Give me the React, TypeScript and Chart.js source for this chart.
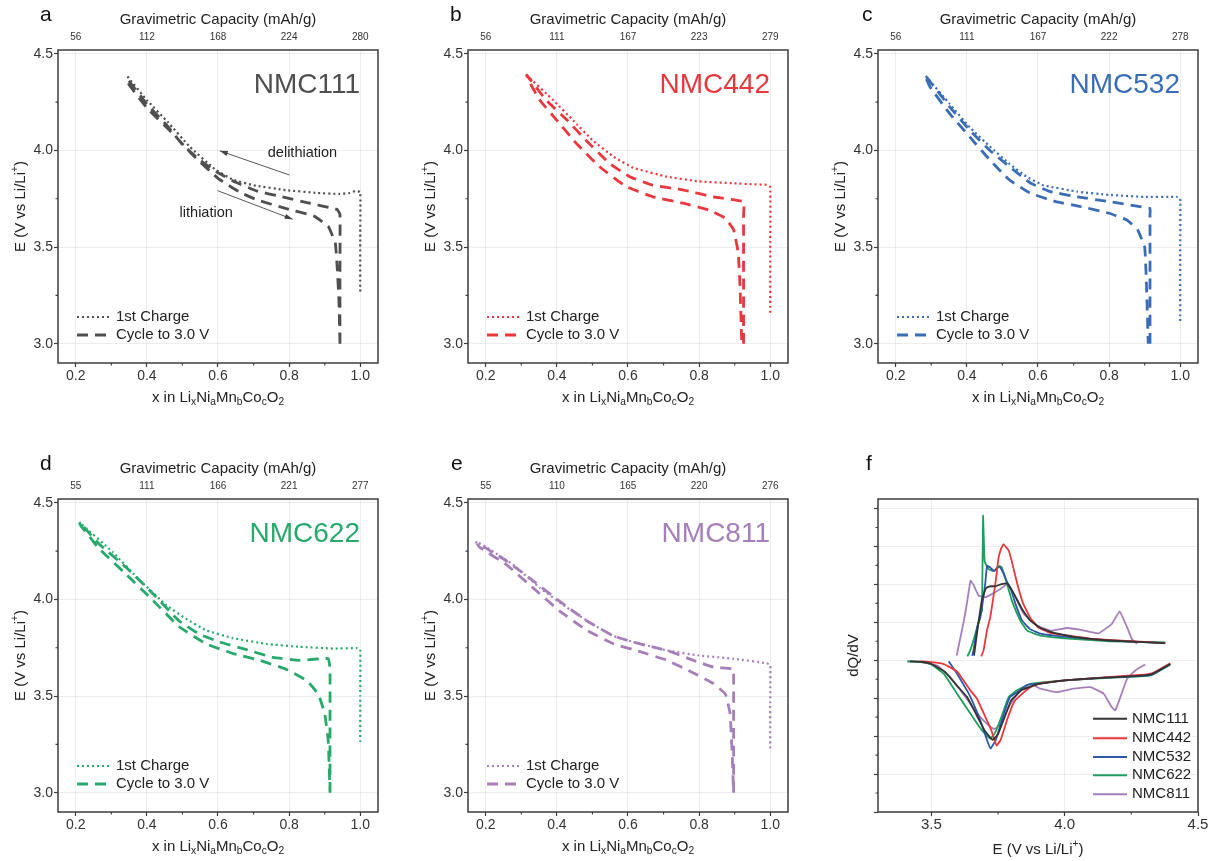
import React, { useEffect, useRef } from "react";
import { Chart, registerables } from "chart.js";

Chart.register(...registerables);

const FONT = '"Liberation Sans", Arial, Helvetica, sans-serif';
Chart.defaults.font.family = FONT;
Chart.defaults.color = "#333";

// ---------- Top-axis capacity tick labels (mAh/g), placed at x = 0.2 ... 1.0
const cap111 = ["56", "112", "168", "224", "280"];
const cap442 = ["56", "111", "167", "223", "279"];
const cap532 = ["56", "111", "167", "222", "278"];
const cap622 = ["55", "111", "166", "221", "277"];
const cap811 = ["55", "110", "165", "220", "276"];

// ---------- NMC111 (a)
const nmc111ChargeX = [1.0, 1.0, 1.0, 0.985, 0.97, 0.94, 0.88, 0.79, 0.7, 0.64, 0.59, 0.52, 0.459, 0.4, 0.342];
const nmc111ChargeE = [3.27, 3.55, 3.785, 3.79, 3.78, 3.775, 3.78, 3.795, 3.82, 3.85, 3.905, 4.02, 4.147, 4.26, 4.39];
const nmc111CycleX = [0.943, 0.943, 0.943, 0.935, 0.925, 0.85, 0.78, 0.71, 0.65, 0.6, 0.55, 0.5, 0.459, 0.4, 0.345, 0.35, 0.4, 0.473, 0.53, 0.6, 0.66, 0.71, 0.79, 0.87, 0.91, 0.93, 0.935, 0.94, 0.943];
const nmc111CycleE = [3.0, 3.35, 3.67, 3.695, 3.7, 3.73, 3.76, 3.79, 3.835, 3.885, 3.95, 4.03, 4.125, 4.24, 4.37, 4.34, 4.22, 4.088, 3.975, 3.856, 3.785, 3.744, 3.7, 3.66, 3.607, 3.52, 3.4, 3.23, 3.0];

// ---------- NMC442 (b)
const nmc442ChargeX = [1.0, 1.0, 1.0, 0.99, 0.95, 0.897, 0.8, 0.71, 0.615, 0.56, 0.502, 0.446, 0.39, 0.315];
const nmc442ChargeE = [3.16, 3.5, 3.81, 3.822, 3.825, 3.83, 3.84, 3.864, 3.91, 3.967, 4.05, 4.155, 4.26, 4.39];
const nmc442CycleX = [0.925, 0.925, 0.925, 0.925, 0.84, 0.756, 0.67, 0.605, 0.55, 0.483, 0.43, 0.37, 0.315, 0.33, 0.352, 0.4, 0.455, 0.52, 0.595, 0.67, 0.756, 0.83, 0.873, 0.897, 0.91, 0.915, 0.92];
const nmc442CycleE = [3.0, 3.35, 3.66, 3.735, 3.76, 3.795, 3.82, 3.864, 3.93, 4.05, 4.155, 4.26, 4.39, 4.33, 4.26, 4.156, 4.036, 3.916, 3.813, 3.76, 3.727, 3.69, 3.65, 3.59, 3.47, 3.3, 3.0];

// ---------- NMC532 (c)
const nmc532ChargeX = [1.0, 1.0, 1.0, 0.99, 0.897, 0.8, 0.71, 0.615, 0.568, 0.52, 0.465, 0.408, 0.352, 0.282];
const nmc532ChargeE = [3.117, 3.45, 3.75, 3.76, 3.76, 3.77, 3.787, 3.82, 3.864, 3.93, 4.02, 4.12, 4.24, 4.39];
const nmc532CycleX = [0.915, 0.915, 0.915, 0.915, 0.8, 0.71, 0.635, 0.58, 0.52, 0.465, 0.408, 0.352, 0.282, 0.296, 0.352, 0.408, 0.465, 0.52, 0.577, 0.65, 0.72, 0.8, 0.85, 0.88, 0.9, 0.905, 0.91];
const nmc532CycleE = [3.0, 3.35, 3.67, 3.7, 3.735, 3.76, 3.787, 3.83, 3.916, 4.0, 4.105, 4.225, 4.39, 4.33, 4.19, 4.07, 3.95, 3.847, 3.78, 3.735, 3.71, 3.675, 3.64, 3.59, 3.5, 3.31, 3.0];

// ---------- NMC622 (d)
const nmc622ChargeX = [1.0, 1.0, 1.0, 0.99, 0.924, 0.83, 0.736, 0.642, 0.567, 0.51, 0.455, 0.38, 0.304, 0.21];
const nmc622ChargeE = [3.263, 3.5, 3.74, 3.748, 3.746, 3.755, 3.77, 3.8, 3.84, 3.9, 3.97, 4.1, 4.245, 4.4];
const nmc622CycleX = [0.915, 0.915, 0.915, 0.91, 0.83, 0.755, 0.68, 0.605, 0.548, 0.49, 0.417, 0.342, 0.267, 0.21, 0.215, 0.267, 0.342, 0.417, 0.49, 0.567, 0.642, 0.717, 0.79, 0.85, 0.882, 0.9, 0.91, 0.915];
const nmc622CycleE = [3.0, 3.35, 3.64, 3.694, 3.685, 3.7, 3.74, 3.78, 3.82, 3.89, 4.03, 4.165, 4.285, 4.4, 4.38, 4.26, 4.13, 3.995, 3.86, 3.77, 3.72, 3.685, 3.64, 3.58, 3.51, 3.41, 3.27, 3.0];

// ---------- NMC811 (e)
const nmc811ChargeX = [1.0, 1.0, 1.0, 0.99, 0.897, 0.8, 0.71, 0.615, 0.56, 0.502, 0.43, 0.352, 0.277, 0.202, 0.174];
const nmc811ChargeE = [3.23, 3.45, 3.66, 3.67, 3.693, 3.71, 3.736, 3.78, 3.81, 3.87, 3.956, 4.06, 4.18, 4.27, 4.3];
const nmc811CycleX = [0.897, 0.897, 0.897, 0.897, 0.84, 0.784, 0.71, 0.634, 0.56, 0.484, 0.408, 0.333, 0.258, 0.174, 0.183, 0.258, 0.333, 0.408, 0.484, 0.56, 0.634, 0.71, 0.784, 0.84, 0.874, 0.887, 0.893, 0.897];
const nmc811CycleE = [3.0, 3.3, 3.615, 3.64, 3.65, 3.685, 3.736, 3.77, 3.81, 3.89, 3.99, 4.097, 4.2, 4.295, 4.27, 4.18, 4.06, 3.94, 3.84, 3.77, 3.73, 3.685, 3.62, 3.565, 3.51, 3.41, 3.2, 3.0];

// ---------- dQ/dV (f): charge (positive) and discharge (negative), arbitrary units
const dq111ChE = [3.66, 3.675, 3.69, 3.705, 3.72, 3.74, 3.76, 3.785, 3.81, 3.84, 3.87, 3.91, 3.96, 4.05, 4.17, 4.377];
const dq111ChY = [0.12, 0.9, 1.6, 1.9, 1.95, 1.95, 2.0, 2.02, 1.75, 1.35, 1.05, 0.85, 0.72, 0.6, 0.52, 0.45];
const dq442ChE = [3.687, 3.696, 3.709, 3.721, 3.74, 3.752, 3.762, 3.771, 3.78, 3.79, 3.802, 3.821, 3.843, 3.87, 3.9, 3.946, 4.0, 4.108, 4.25, 4.377];
const dq442ChY = [0.1, 0.26, 0.8, 1.13, 2.01, 2.7, 2.95, 3.06, 2.98, 2.9, 2.6, 2.05, 1.52, 1.13, 0.87, 0.72, 0.66, 0.56, 0.5, 0.45];
const dq532ChE = [3.653, 3.658, 3.672, 3.684, 3.702, 3.709, 3.72, 3.735, 3.755, 3.77, 3.785, 3.797, 3.815, 3.84, 3.87, 3.91, 4.0, 4.17, 4.377];
const dq532ChY = [0.12, 0.26, 0.87, 1.13, 2.01, 2.49, 2.45, 2.35, 2.47, 2.3, 2.05, 1.9, 1.5, 1.05, 0.82, 0.7, 0.62, 0.52, 0.45];
const dq622ChE = [3.635, 3.646, 3.672, 3.684, 3.69, 3.694, 3.7, 3.715, 3.735, 3.752, 3.764, 3.784, 3.802, 3.834, 3.859, 3.909, 4.0, 4.17, 4.377];
const dq622ChY = [0.1, 0.26, 0.87, 1.22, 1.3, 3.81, 2.6, 2.4, 2.35, 2.49, 2.45, 2.01, 1.57, 1.04, 0.78, 0.65, 0.58, 0.5, 0.47];
const dq811ChE = [3.595, 3.622, 3.635, 3.647, 3.66, 3.678, 3.703, 3.728, 3.759, 3.784, 3.809, 3.847, 3.897, 3.946, 4.009, 4.06, 4.127, 4.177, 4.206, 4.234, 4.252, 4.271];
const dq811ChY = [0.12, 1.04, 1.57, 2.1, 1.96, 1.7, 1.66, 1.75, 1.88, 2.0, 1.75, 1.22, 0.91, 0.78, 0.85, 0.8, 0.71, 0.96, 1.29, 0.87, 0.56, 0.43];

const dq111DisE = [3.42, 3.46, 3.5, 3.55, 3.6, 3.634, 3.67, 3.7, 3.73, 3.75, 3.775, 3.8, 3.84, 3.9, 4.0, 4.15, 4.3, 4.33, 4.396];
const dq111DisY = [-0.03, -0.04, -0.1, -0.3, -0.7, -0.97, -1.45, -1.85, -2.1, -1.95, -1.5, -1.05, -0.78, -0.63, -0.53, -0.46, -0.4, -0.36, -0.1];
const dq442DisE = [3.46, 3.5, 3.547, 3.597, 3.647, 3.67, 3.7, 3.725, 3.745, 3.76, 3.785, 3.81, 3.827, 3.87, 3.902, 4.0, 4.15, 4.3, 4.33, 4.396];
const dq442DisY = [-0.03, -0.05, -0.1, -0.3, -0.8, -1.0, -1.45, -1.85, -2.25, -2.1, -1.55, -1.1, -0.97, -0.72, -0.62, -0.53, -0.45, -0.38, -0.34, -0.08];
const dq532DisE = [3.565, 3.597, 3.634, 3.647, 3.684, 3.709, 3.722, 3.741, 3.772, 3.795, 3.82, 3.86, 3.92, 4.0, 4.15, 4.3, 4.33, 4.396];
const dq532DisY = [-0.03, -0.36, -0.8, -0.97, -1.59, -2.11, -2.33, -2.11, -1.41, -0.97, -0.85, -0.65, -0.6, -0.53, -0.46, -0.41, -0.37, -0.1];
const dq622DisE = [3.41, 3.45, 3.497, 3.547, 3.597, 3.647, 3.69, 3.721, 3.74, 3.765, 3.79, 3.82, 3.871, 3.92, 4.0, 4.15, 4.3, 4.33, 4.396];
const dq622DisY = [-0.03, -0.04, -0.1, -0.36, -0.89, -1.41, -1.85, -2.07, -1.9, -1.45, -0.97, -0.8, -0.62, -0.58, -0.53, -0.47, -0.42, -0.38, -0.12];
const dq811DisE = [3.41, 3.47, 3.522, 3.572, 3.61, 3.647, 3.684, 3.716, 3.734, 3.745, 3.766, 3.797, 3.834, 3.884, 3.909, 3.971, 4.033, 4.096, 4.146, 4.177, 4.19, 4.209, 4.234, 4.265, 4.302];
const dq811DisY = [-0.03, -0.05, -0.14, -0.45, -0.8, -1.15, -1.5, -1.72, -1.81, -1.78, -1.59, -1.15, -0.8, -0.66, -0.75, -0.84, -0.75, -0.71, -0.88, -1.24, -1.32, -0.97, -0.49, -0.27, -0.11];

const seriesNames = ["NMC111", "NMC442", "NMC532", "NMC622", "NMC811"];
const seriesColors = ["#4f4f4f", "#e8383d", "#3a6db5", "#27a96c", "#a67fba"];
const fColors = ["#333333", "#e8383d", "#2c58a8", "#1f9e5e", "#a67fba"];

// Annotation anchors for panel a (data coordinates)
const delithArrow = [0.801, 3.873, 0.605, 3.998];
const lithArrow = [0.599, 3.792, 0.81, 3.644];
const delithText = [0.74, 3.986];
const lithText = [0.492, 3.677];

const zip = (xs: number[], ys: number[]) => xs.map((x, i) => ({ x, y: ys[i] }));

type Seg = { t: string; s?: "sub" | "sup" };

function drawRich(ctx: CanvasRenderingContext2D, segs: Seg[], cx: number, cy: number, size: number, color: string, rotate = 0) {
  ctx.save();
  ctx.translate(cx, cy);
  if (rotate) ctx.rotate(rotate);
  const sz = (s: Seg) => (s.s ? size * 0.68 : size);
  let total = 0;
  const widths = segs.map((s) => {
    ctx.font = `${sz(s)}px ${FONT}`;
    const w = ctx.measureText(s.t).width;
    total += w;
    return w;
  });
  let x = -total / 2;
  ctx.fillStyle = color;
  ctx.textBaseline = "middle";
  ctx.textAlign = "left";
  segs.forEach((s, i) => {
    ctx.font = `${sz(s)}px ${FONT}`;
    const dy = s.s === "sub" ? size * 0.3 : s.s === "sup" ? -size * 0.38 : 0;
    ctx.fillText(s.t, x, dy);
    x += widths[i];
  });
  ctx.restore();
}

function drawArrow(ctx: CanvasRenderingContext2D, x1: number, y1: number, x2: number, y2: number) {
  ctx.save();
  ctx.strokeStyle = "#444";
  ctx.fillStyle = "#444";
  ctx.lineWidth = 0.9;
  ctx.setLineDash([]);
  ctx.beginPath();
  ctx.moveTo(x1, y1);
  ctx.lineTo(x2, y2);
  ctx.stroke();
  const a = Math.atan2(y2 - y1, x2 - x1);
  const L = 8, W = 2.6;
  ctx.beginPath();
  ctx.moveTo(x2, y2);
  ctx.lineTo(x2 - L * Math.cos(a) + W * Math.sin(a), y2 - L * Math.sin(a) - W * Math.cos(a));
  ctx.lineTo(x2 - L * Math.cos(a) - W * Math.sin(a), y2 - L * Math.sin(a) + W * Math.cos(a));
  ctx.closePath();
  ctx.fill();
  ctx.restore();
}

const xTitleSegs: Seg[] = [
  { t: "x in Li" }, { t: "x", s: "sub" }, { t: "Ni" }, { t: "a", s: "sub" }, { t: "Mn" }, { t: "b", s: "sub" },
  { t: "Co" }, { t: "c", s: "sub" }, { t: "O" }, { t: "2", s: "sub" },
];
const eTitleSegs: Seg[] = [{ t: "E (V vs Li/Li" }, { t: "+", s: "sup" }, { t: ")" }];

const decorPlugin = {
  id: "decor",
  afterDraw(chart: any) {
    const o = chart.options.plugins.decor;
    if (!o) return;
    const ctx: CanvasRenderingContext2D = chart.ctx;
    const ca = chart.chartArea;
    const xs = chart.scales.x;
    const ys = chart.scales.y;
    ctx.save();
    // frame
    ctx.setLineDash([]);
    ctx.strokeStyle = "#3c3c3c";
    ctx.lineWidth = 1.5;
    ctx.strokeRect(ca.left, ca.top, ca.right - ca.left, ca.bottom - ca.top);
    // minor ticks
    ctx.lineWidth = 1.1;
    ctx.beginPath();
    for (const v of o.minorX) {
      const p = xs.getPixelForValue(v);
      ctx.moveTo(p, ca.bottom);
      ctx.lineTo(p, ca.bottom + 2.5);
    }
    for (const v of o.minorY) {
      const p = ys.getPixelForValue(v);
      ctx.moveTo(ca.left, p);
      ctx.lineTo(ca.left - 2.5, p);
    }
    ctx.stroke();
    // panel letter
    ctx.fillStyle = "#111";
    ctx.font = `21px ${FONT}`;
    ctx.textAlign = "left";
    ctx.textBaseline = "alphabetic";
    ctx.fillText(o.letter, o.letterX, ca.top - 29);
    const cx = (ca.left + ca.right) / 2;
    const cy = (ca.top + ca.bottom) / 2;
    if (o.topTitle) {
      ctx.font = `15px ${FONT}`;
      ctx.textAlign = "center";
      ctx.textBaseline = "middle";
      ctx.fillStyle = "#222";
      ctx.fillText(o.topTitle, cx, ca.top - 30);
    }
    drawRich(ctx, o.xTitle, cx, o.xTitleY, 15, "#222");
    drawRich(ctx, o.yTitle, o.yTitleX, cy, 15, "#222", -Math.PI / 2);
    if (o.label) {
      ctx.font = `28px ${FONT}`;
      ctx.textAlign = "right";
      ctx.textBaseline = "middle";
      ctx.fillStyle = o.label.color;
      ctx.fillText(o.label.text, ca.right - 18, ca.top + 35);
    }
    const ds = chart.data.datasets;
    if (o.legend === "ae") {
      const rows = [ca.bottom - 46, ca.bottom - 28];
      ds.forEach((d: any, i: number) => {
        ctx.setLineDash(d.borderDash || []);
        ctx.lineWidth = d.borderWidth;
        ctx.strokeStyle = d.borderColor;
        ctx.beginPath();
        ctx.moveTo(ca.left + 19, rows[i]);
        ctx.lineTo(ca.left + 52, rows[i]);
        ctx.stroke();
        ctx.setLineDash([]);
        ctx.fillStyle = "#222";
        ctx.font = `15px ${FONT}`;
        ctx.textBaseline = "middle";
        ctx.textAlign = "left";
        ctx.fillText(d.label, ca.left + 58, rows[i]);
      });
    }
    if (o.legend === "f") {
      const offs = [93.3, 73.7, 55, 36.7, 17.7];
      for (let i = 0; i < 5; i++) {
        const d = ds[i];
        const y = ca.bottom - offs[i];
        ctx.setLineDash([]);
        ctx.lineWidth = 2;
        ctx.strokeStyle = d.borderColor;
        ctx.beginPath();
        ctx.moveTo(ca.left + 215, y);
        ctx.lineTo(ca.left + 249, y);
        ctx.stroke();
        ctx.fillStyle = "#222";
        ctx.font = `15px ${FONT}`;
        ctx.textBaseline = "middle";
        ctx.textAlign = "left";
        ctx.fillText(d.label, ca.left + 254, y);
      }
    }
    if (o.notes) {
      for (const a of o.arrows) {
        drawArrow(ctx, xs.getPixelForValue(a[0]), ys.getPixelForValue(a[1]), xs.getPixelForValue(a[2]), ys.getPixelForValue(a[3]));
      }
      ctx.fillStyle = "#222";
      ctx.font = `14.5px ${FONT}`;
      ctx.textAlign = "left";
      ctx.textBaseline = "middle";
      for (const n of o.notes) {
        ctx.fillText(n.text, xs.getPixelForValue(n.x), ys.getPixelForValue(n.y));
      }
    }
    ctx.restore();
  },
};

const gridColor = "rgba(0,0,0,0.07)";

function voltageConfig(p: any) {
  return {
    type: "scatter",
    data: {
      datasets: [
        {
          label: "1st Charge",
          data: zip(p.chX, p.chE),
          showLine: true,
          borderColor: p.color,
          borderWidth: 2.2,
          borderDash: [2, 3],
          pointRadius: 0,
          tension: 0.1,
          fill: false,
        },
        {
          label: "Cycle to 3.0 V",
          data: zip(p.cyX, p.cyE),
          showLine: true,
          borderColor: p.color,
          borderWidth: 2.8,
          borderDash: [11, 7],
          pointRadius: 0,
          tension: 0.1,
          fill: false,
        },
      ],
    },
    options: {
      responsive: false,
      animation: false,
      events: [],
      layout: { padding: { left: 0, right: 12, top: 0, bottom: 0 } },
      plugins: {
        legend: { display: false },
        tooltip: { enabled: false },
        decor: {
          letter: p.letter,
          letterX: p.letterX,
          topTitle: "Gravimetric Capacity (mAh/g)",
          xTitle: xTitleSegs,
          xTitleY: 398,
          yTitle: eTitleSegs,
          yTitleX: 21,
          label: { text: p.name, color: p.color },
          legend: "ae",
          minorX: [0.3, 0.5, 0.7, 0.9],
          minorY: [3.25, 3.75, 4.25],
          arrows: p.arrows,
          notes: p.notes,
        },
      },
      scales: {
        x: {
          type: "linear",
          position: "bottom",
          min: 0.15,
          max: 1.05,
          afterFit: (s: any) => { s.height = 57; s.paddingLeft = 0; s.paddingRight = 0; },
          ticks: { stepSize: 0.2, includeBounds: false, padding: 1, font: { size: 14 }, color: "#333", callback: (v: number) => v.toFixed(1) },
          grid: { color: gridColor, lineWidth: 1, tickLength: 4, tickColor: "#3c3c3c", tickWidth: 1.2 },
          border: { display: false },
        },
        xTop: {
          type: "linear",
          axis: "x",
          position: "top",
          min: 0.15,
          max: 1.05,
          afterFit: (s: any) => { s.height = 50; s.paddingLeft = 0; s.paddingRight = 0; },
          ticks: {
            stepSize: 0.2,
            includeBounds: false,
            padding: 7,
            font: { size: 10 },
            color: "#333",
            callback: (v: number) => p.cap[Math.round((v - 0.2) / 0.2)] ?? "",
          },
          grid: { display: false, drawTicks: false },
          border: { display: false },
        },
        y: {
          type: "linear",
          min: 2.9,
          max: 4.52,
          afterFit: (s: any) => { s.width = 58; s.paddingTop = 0; s.paddingBottom = 0; },
          ticks: { stepSize: 0.5, includeBounds: false, padding: 1, font: { size: 14 }, color: "#333", callback: (v: number) => v.toFixed(1) },
          grid: { color: gridColor, lineWidth: 1, tickLength: 4, tickColor: "#3c3c3c", tickWidth: 1.2 },
          border: { display: false },
        },
      },
    },
    plugins: [decorPlugin],
  };
}

function dqdvConfig() {
  const ch = [
    [dq111ChE, dq111ChY], [dq442ChE, dq442ChY], [dq532ChE, dq532ChY], [dq622ChE, dq622ChY], [dq811ChE, dq811ChY],
  ];
  const dis = [
    [dq111DisE, dq111DisY], [dq442DisE, dq442DisY], [dq532DisE, dq532DisY], [dq622DisE, dq622DisY], [dq811DisE, dq811DisY],
  ];
  const mk = (arr: number[][], i: number) => ({
    label: seriesNames[i],
    data: zip(arr[0], arr[1]),
    showLine: true,
    borderColor: fColors[i],
    borderWidth: 1.8,
    pointRadius: 0,
    tension: 0.1,
    fill: false,
  });
  return {
    type: "scatter",
    data: { datasets: [...ch.map((a, i) => mk(a, i)), ...dis.map((a, i) => mk(a, i))] },
    options: {
      responsive: false,
      animation: false,
      events: [],
      layout: { padding: { left: 0, right: 12, top: 50, bottom: 0 } },
      plugins: {
        legend: { display: false },
        tooltip: { enabled: false },
        decor: {
          letter: "f",
          letterX: 46,
          xTitle: eTitleSegs,
          xTitleY: 401,
          yTitle: [{ t: "dQ/dV" }],
          yTitleX: 34,
          legend: "f",
          minorX: [3.75, 4.25],
          minorY: [-3.5, -2.5, -1.5, -0.5, 0.5, 1.5, 2.5, 3.5],
        },
      },
      scales: {
        x: {
          type: "linear",
          min: 3.3,
          max: 4.5,
          afterFit: (s: any) => { s.height = 57; s.paddingLeft = 0; s.paddingRight = 0; },
          ticks: { stepSize: 0.5, includeBounds: false, padding: 0, font: { size: 15 }, color: "#333", callback: (v: number) => v.toFixed(1) },
          grid: { color: gridColor, lineWidth: 1, tickLength: 4, tickColor: "#3c3c3c", tickWidth: 1.2 },
          border: { display: false },
        },
        y: {
          type: "linear",
          min: -4,
          max: 4.25,
          afterFit: (s: any) => { s.width = 58; s.paddingTop = 0; s.paddingBottom = 0; },
          ticks: { stepSize: 1, includeBounds: false, callback: () => "" },
          grid: { color: gridColor, lineWidth: 1, tickLength: 4, tickColor: "#3c3c3c", tickWidth: 1.2 },
          border: { display: false },
        },
      },
    },
    plugins: [decorPlugin],
  };
}

function Panel({ left, top, make }: { left: number; top: number; make: () => any }) {
  const ref = useRef<HTMLCanvasElement>(null);
  useEffect(() => {
    const chart = new Chart(ref.current as HTMLCanvasElement, make());
    return () => chart.destroy();
  }, []);
  return (
    <div style={{ position: "absolute", left, top, width: 390, height: 420 }}>
      <canvas ref={ref} width={390} height={420} style={{ display: "block" }} />
    </div>
  );
}

const panels = [
  { letter: "a", letterX: 40, name: "NMC111", color: seriesColors[0], cap: cap111, chX: nmc111ChargeX, chE: nmc111ChargeE, cyX: nmc111CycleX, cyE: nmc111CycleE,
    arrows: [delithArrow, lithArrow],
    notes: [{ text: "delithiation", x: delithText[0], y: delithText[1] }, { text: "lithiation", x: lithText[0], y: lithText[1] }] },
  { letter: "b", letterX: 40, name: "NMC442", color: seriesColors[1], cap: cap442, chX: nmc442ChargeX, chE: nmc442ChargeE, cyX: nmc442CycleX, cyE: nmc442CycleE },
  { letter: "c", letterX: 42, name: "NMC532", color: seriesColors[2], cap: cap532, chX: nmc532ChargeX, chE: nmc532ChargeE, cyX: nmc532CycleX, cyE: nmc532CycleE },
  { letter: "d", letterX: 40, name: "NMC622", color: seriesColors[3], cap: cap622, chX: nmc622ChargeX, chE: nmc622ChargeE, cyX: nmc622CycleX, cyE: nmc622CycleE },
  { letter: "e", letterX: 41, name: "NMC811", color: seriesColors[4], cap: cap811, chX: nmc811ChargeX, chE: nmc811ChargeE, cyX: nmc811CycleX, cyE: nmc811CycleE },
];

export default function App() {
  const lefts = [0, 410, 820];
  const tops = [0, 449];
  return (
    <div style={{ position: "absolute", left: 0, top: 0, width: 1216, height: 861, overflow: "hidden", background: "#fff" }}>
      {panels.map((p, i) => (
        <Panel key={p.letter} left={lefts[i % 3]} top={tops[Math.floor(i / 3)]} make={() => voltageConfig(p)} />
      ))}
      <Panel left={lefts[2]} top={tops[1]} make={dqdvConfig} />
    </div>
  );
}
